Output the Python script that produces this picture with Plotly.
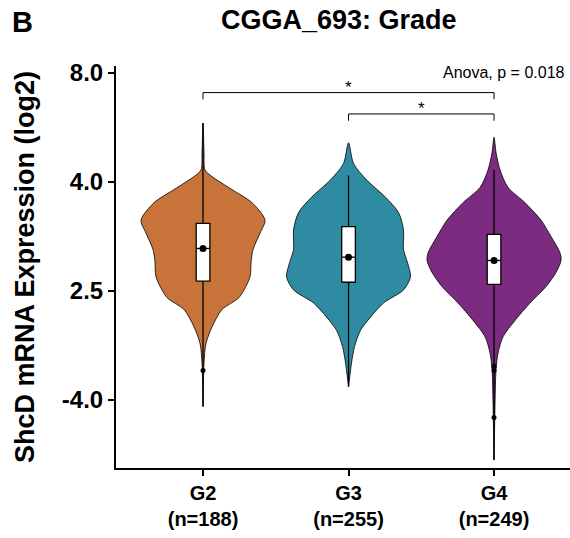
import plotly.graph_objects as go

# ---------------- data ----------------
categories = ["G2", "G3", "G4"]
counts = [188, 255, 249]
colors = ["#C8733A", "#2E8BA1", "#7B2C80"]

# y axis: tick label text at evenly spaced axis positions
ytick_vals = [0, 1, 2, 3]
ytick_text = ["-4.0", "2.5", "4.0", "8.0"]

# violin density profiles: level (axis units) and relative density
g2_level = [2.54, 2.27, 2.11, 2.05, 1.93, 1.81, 1.65, 1.53, 1.38, 1.26, 1.13, 0.94, 0.83, 0.67, 0.52, 0.34, -0.06]
g2_density = [0, 1, 2, 9, 29, 49, 62, 57, 50, 48, 47, 36, 19, 9, 3, 1, 0]
g3_level = [2.36, 2.17, 2.02, 1.86, 1.72, 1.56, 1.38, 1.26, 1.13, 1.01, 0.89, 0.76, 0.64, 0.49, 0.34, 0.12]
g3_density = [0, 5, 18, 37, 50, 55, 55, 59, 62, 55, 35, 22, 12, 6, 3, 0]
g4_level = [2.41, 2.27, 2.11, 1.95, 1.81, 1.65, 1.50, 1.35, 1.28, 1.17, 1.04, 0.89, 0.73, 0.58, 0.43, 0.28, -0.03, -0.55]
g4_density = [0, 2, 6, 14, 31, 47, 57, 66, 67, 62, 52, 36, 21, 9, 4, 2, 1, 0]

# box statistics (axis units)
q1 = [1.09, 1.08, 1.06]
median = [1.39, 1.31, 1.28]
q3 = [1.62, 1.59, 1.52]
lower = [-0.06, 0.12, -0.55]
upper = [2.54, 2.06, 2.11]
outliers = [[0.27], [], [0.31, 0.27, -0.16]]

# comparisons
comparisons = [(0, 2, "*", 2.82), (1, 2, "*", 2.624)]
anova_text = "Anova, p = 0.018"

levels = [g2_level, g3_level, g4_level]
densities = [g2_density, g3_density, g4_density]

FONT = "Arial, Liberation Sans, sans-serif"
VSCALE = 0.00687  # width scale for density units
BOXW = 0.047      # half width of the boxes
fig = go.Figure()

for i in range(3):
    lv = levels[i]
    dv = densities[i]
    xs = [i + d * VSCALE for d in dv] + [i - d * VSCALE for d in dv[::-1]]
    ys = list(lv) + list(lv[::-1])
    fig.add_trace(go.Scatter(x=xs, y=ys, mode="lines", fill="toself",
                             fillcolor=colors[i],
                             line=dict(color="black", width=0.8, shape="spline", smoothing=0.8),
                             hoverinfo="skip", showlegend=False))

for i in range(3):
    # whiskers
    fig.add_trace(go.Scatter(x=[i, i, None, i, i], y=[upper[i], q3[i], None, q1[i], lower[i]],
                             mode="lines", line=dict(color="black", width=1.3),
                             hoverinfo="skip", showlegend=False))
    # box
    fig.add_trace(go.Scatter(x=[i - BOXW, i + BOXW, i + BOXW, i - BOXW, i - BOXW],
                             y=[q1[i], q1[i], q3[i], q3[i], q1[i]], mode="lines",
                             fill="toself", fillcolor="white",
                             line=dict(color="black", width=1.3),
                             hoverinfo="skip", showlegend=False))
    # median line and dot
    fig.add_trace(go.Scatter(x=[i - BOXW, i + BOXW], y=[median[i], median[i]], mode="lines",
                             line=dict(color="black", width=1.3), hoverinfo="skip", showlegend=False))
    fig.add_trace(go.Scatter(x=[i], y=[median[i]], mode="markers",
                             marker=dict(color="black", size=7), showlegend=False))
    if outliers[i]:
        fig.add_trace(go.Scatter(x=[i] * len(outliers[i]), y=outliers[i], mode="markers",
                                 marker=dict(color="black", size=5), showlegend=False))

for a, b, lab, yv in comparisons:
    fig.add_trace(go.Scatter(x=[a, a, b, b], y=[yv - 0.062, yv, yv, yv - 0.062], mode="lines",
                             line=dict(color="black", width=1), showlegend=False, hoverinfo="skip"))
    fig.add_annotation(x=(a + b) / 2, y=yv + 0.05, text=lab, showarrow=False,
                       xref="x", yref="y", yanchor="middle",
                       font=dict(family=FONT, size=17, color="black"))

fig.add_annotation(x=0.993, y=0.9826, xref="paper", yref="paper", text=anova_text,
                   showarrow=False, xanchor="right", yanchor="middle",
                   font=dict(family=FONT, size=16, color="black"))
fig.add_annotation(x=0.491, y=1.114, xref="paper", yref="paper", text="<b>CGGA_693: Grade</b>",
                   showarrow=False, xanchor="center", yanchor="middle",
                   font=dict(family=FONT, size=27, color="black"))
fig.add_annotation(x=-0.2335, y=1.109, xref="paper", yref="paper", text="<b>B</b>",
                   showarrow=False, xanchor="left", yanchor="middle",
                   font=dict(family=FONT, size=29, color="black"))
fig.add_annotation(x=-0.2005, y=0.5, xref="paper", yref="paper",
                   text="<b>ShcD mRNA Expression (log2)</b>", textangle=-90,
                   showarrow=False, xanchor="center", yanchor="middle",
                   font=dict(family=FONT, size=27, color="black"))

fig.update_layout(
    width=570, height=538,
    margin=dict(l=116, r=0, t=66, b=70),
    paper_bgcolor="white", plot_bgcolor="white",
    showlegend=False,
    xaxis=dict(range=[-0.598, 2.522], tickvals=[0, 1, 2],
               ticktext=[f"<b>{c}</b><br><b>(n={n})</b>" for c, n in zip(categories, counts)],
               showgrid=False, zeroline=False, showline=True, linecolor="black", linewidth=2,
               ticks="outside", ticklen=6, tickwidth=1.5, tickcolor="black",
               tickfont=dict(family=FONT, size=20, color="black")),
    yaxis=dict(range=[-0.624, 3.064], tickvals=ytick_vals, ticktext=[f"<b>{t}</b>" for t in ytick_text],
               showgrid=False, zeroline=False, showline=True, linecolor="black", linewidth=2,
               ticks="outside", ticklen=6, tickwidth=1.5, tickcolor="black",
               tickfont=dict(family=FONT, size=24, color="black")),
)

fig.write_html("out.html", config={"displayModeBar": False},
               post_script="document.body.style.margin='0';document.body.style.padding='0';")
